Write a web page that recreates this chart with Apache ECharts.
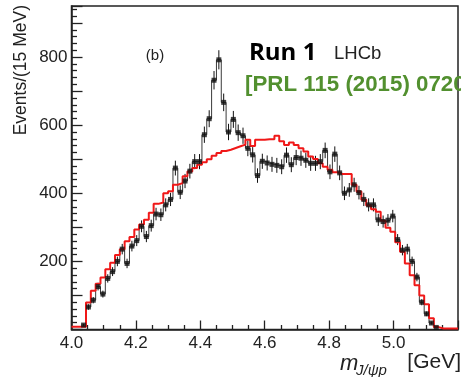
<!DOCTYPE html>
<html>
<head>
<meta charset="utf-8">
<script src="https://cdn.jsdelivr.net/npm/echarts@6/dist/echarts.min.js"></script>
<style>
  html, body { margin: 0; padding: 0; background: #ffffff; }
  #chart { width: 461px; height: 377px; }
</style>
</head>
<body>
<div id="chart"></div>
<script>
// Binning of the J/psi p invariant-mass histogram (GeV)
const massLow = 4.0;
const binWidth = 0.015;

// Candidates per 15 MeV bin (null = empty bin, no marker)
const counts = [
  null, null, 13, 66, 86, 126, 104, 150, 170, 200,
  236, 194, 245, 261, 303, 273, 305, 339, 337, 366,
  382, 474, 403, 436, 465, 493, 493, 572, 619, 732,
  792, 667, 580, 617, 578, 569, 532, 513, 452, 494,
  489, 485, 482, 478, 512, 484, 505, 503, 497, 488,
  488, 493, 526, 463, 515, 460, 400, 410, 425, 402,
  382, 366, 366, 322, 317, 321, 333, 264, 233, 236,
  200, 154, 80, 46, 19, 6
];

// Phase-space expectation per 15 MeV bin
const phaseSpace = [
  8, 8, 8, 79, 114, 134, 153, 177, 196, 219,
  236, 259, 272, 294, 308, 322, 343, 369, 373, 400,
  406, 425, 430, 450, 464, 474, 484, 491, 500, 510,
  518, 524, 528, 533, 538, 543, 557, 539, 557, 557,
  559, 559, 569, 553, 542, 549, 542, 532, 523, 508,
  501, 488, 478, 469, 462, 457, 457, 457, 425, 405,
  381, 364, 353, 346, 319, 299, 287, 256, 228, 194,
  159, 130, 100, 74, 33, 7, 3, 3, 3, 3
];

// Axis ranges and label steps
const xRange = [4.0, 5.2];
const xLabelStep = 0.2;
const xLabelMax = 5.0;
const yRange = [0, 950];
const yTickStep = 100;
const yLabelStep = 200;

const edge = k => +(massLow + k * binWidth).toFixed(4);
const center = k => +(massLow + (k + 0.5) * binWidth).toFixed(5);

// Step outline of a binned series: one point per lower edge, closed at the last upper edge
function stepOutline(values) {
  const pts = [];
  let last = -1;
  values.forEach((v, k) => {
    if (v === null) return;
    pts.push([edge(k), v]);
    last = k;
  });
  if (last >= 0) pts.push([edge(last + 1), values[last]]);
  return pts;
}

const markerPoints = [];
counts.forEach((v, k) => { if (v !== null) markerPoints.push([center(k), v]); });

const chart = echarts.init(document.getElementById('chart'), null, { renderer: 'canvas' });

const labelFont = { color: '#222', fontSize: 17, fontFamily: 'Liberation Sans, Arial, sans-serif' };

chart.setOption({
  animation: false,
  backgroundColor: '#ffffff',
  grid: {
    left: 71.5, top: 6, right: -5.3, bottom: 47.5,
    show: true, borderColor: '#222', borderWidth: 1.5, backgroundColor: 'transparent'
  },
  xAxis: {
    type: 'value',
    min: xRange[0], max: xRange[1], interval: xLabelStep,
    axisLine: { show: true, onZero: false, lineStyle: { color: '#222', width: 1.5 } },
    axisTick: { show: true, inside: true, length: 9, lineStyle: { color: '#222', width: 1.3 } },
    minorTick: { show: true, splitNumber: 4, length: 4.5, lineStyle: { color: '#222', width: 1.3 } },
    splitLine: { show: false },
    axisLabel: Object.assign({
      margin: 5,
      formatter: v => (v <= xLabelMax + 1e-9) ? v.toFixed(1) : ''
    }, labelFont)
  },
  yAxis: {
    type: 'value',
    min: yRange[0], max: yRange[1], interval: yTickStep,
    axisLine: { show: true, lineStyle: { color: '#222', width: 1.5 } },
    axisTick: { show: true, inside: true, length: 11, lineStyle: { color: '#222', width: 1.3 } },
    minorTick: { show: true, splitNumber: 5, length: 5.5, lineStyle: { color: '#222', width: 1.3 } },
    splitLine: { show: false },
    axisLabel: Object.assign({
      margin: 4,
      formatter: v => (v > 0 && v % yLabelStep === 0) ? String(v) : ''
    }, labelFont)
  },
  series: [
    {
      name: 'data outline',
      type: 'line',
      step: 'end',
      data: stepOutline(counts),
      showSymbol: false,
      lineStyle: { color: '#3a3a3a', width: 1 },
      z: 2
    },
    {
      name: 'errors',
      type: 'custom',
      data: markerPoints,
      renderItem: (params, api) => {
        const x = api.value(0), v = api.value(1);
        const e = Math.sqrt(v);
        const top = api.coord([x, v + e]);
        const bot = api.coord([x, Math.max(v - e, 0)]);
        return {
          type: 'line',
          shape: { x1: top[0], y1: top[1], x2: bot[0], y2: bot[1] },
          style: { stroke: '#111', lineWidth: 1 }
        };
      },
      z: 3
    },
    {
      name: 'phase space',
      type: 'line',
      step: 'end',
      data: stepOutline(phaseSpace),
      showSymbol: false,
      lineStyle: { color: '#f01818', width: 2 },
      z: 4
    },
    {
      name: 'data',
      type: 'scatter',
      data: markerPoints,
      symbol: 'rect',
      symbolSize: 5,
      itemStyle: { color: '#111' },
      z: 5
    }
  ],
  graphic: [
    {
      type: 'text', x: 21, y: 5, rotation: Math.PI / 2,
      style: { text: 'Events/(15 MeV)', align: 'right', verticalAlign: 'middle',
               fontSize: 17.5, fontFamily: 'Liberation Sans, Arial, sans-serif', fill: '#222' }
    },
    {
      type: 'text', x: 155, y: 56,
      style: { text: '(b)', align: 'center', verticalAlign: 'middle',
               fontSize: 15, fontFamily: 'Liberation Sans, Arial, sans-serif', fill: '#222' }
    },
    {
      type: 'text', x: 249, y: 53,
      style: { text: 'Run 1', align: 'left', verticalAlign: 'middle',
               fontSize: 24, fontWeight: 'bold', fontFamily: 'Open Sans, Liberation Sans, sans-serif', fill: '#000' }
    },
    {
      type: 'text', x: 334, y: 53.5,
      style: { text: 'LHCb', align: 'left', verticalAlign: 'middle',
               fontSize: 18.5, fontFamily: 'Liberation Sans, Arial, sans-serif', fill: '#222' }
    },
    {
      type: 'text', x: 245, y: 84.5,
      style: { text: '[PRL 115 (2015) 072001]', align: 'left', verticalAlign: 'middle',
               fontSize: 22.3, fontWeight: 'bold', fontFamily: 'Liberation Sans, Arial, sans-serif', fill: '#52902f' }
    },
    {
      type: 'text', x: 340, y: 364,
      style: { text: 'm', align: 'left', verticalAlign: 'middle',
               fontSize: 22, fontStyle: 'italic', fontFamily: 'Liberation Sans, Arial, sans-serif', fill: '#222' }
    },
    {
      type: 'text', x: 356, y: 371,
      style: { text: 'J/\u03C8p', align: 'left', verticalAlign: 'middle',
               fontSize: 15, fontStyle: 'italic', fontFamily: 'Liberation Sans, Arial, sans-serif', fill: '#222' }
    },
    {
      type: 'text', x: 461, y: 362,
      style: { text: '[GeV]', align: 'right', verticalAlign: 'middle',
               fontSize: 21, fontFamily: 'Liberation Sans, Arial, sans-serif', fill: '#222' }
    }
  ]
});
</script>
</body>
</html>
